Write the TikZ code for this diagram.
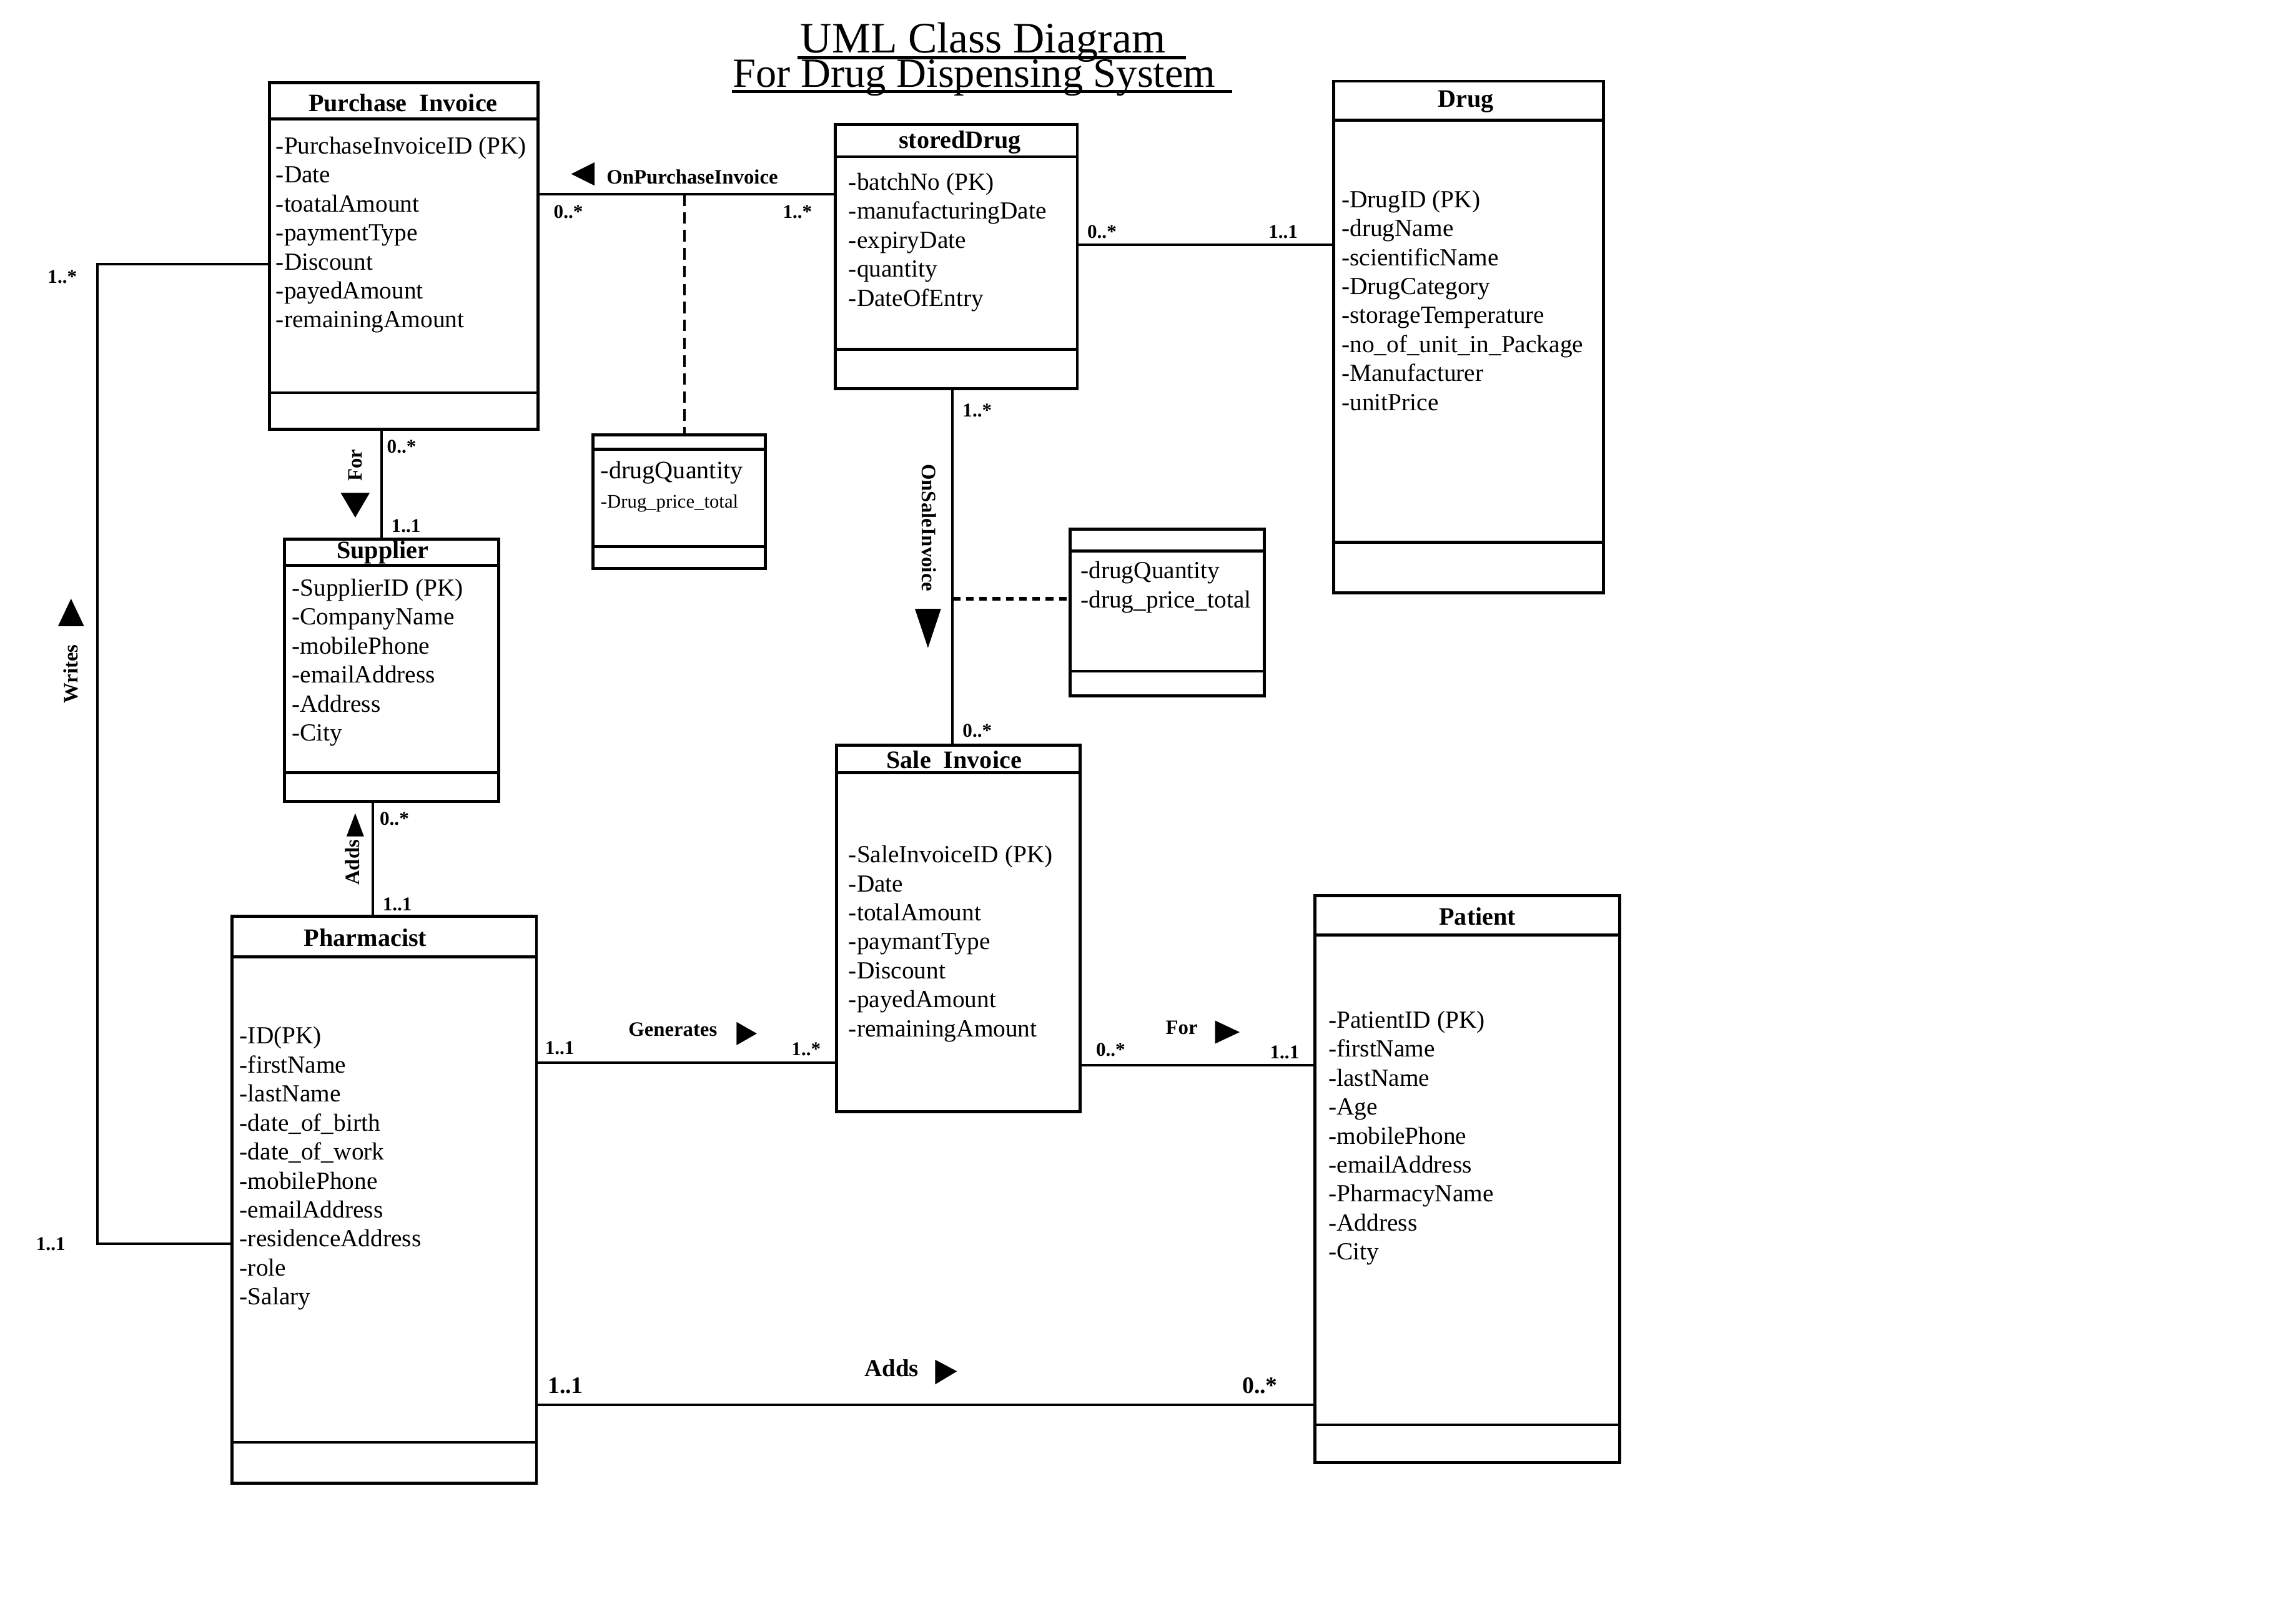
\documentclass[tikz,border=0pt]{standalone}
\usepackage{fontspec}
\setmainfont{Liberation Serif}
\usetikzlibrary{fit}
\begin{document}
\begin{tikzpicture}[x=0.01991cm,y=-0.01991cm,
  cls/.style={draw,line width=1.2pt,inner sep=0pt},
  cmp/.style={line width=1.1pt},
  conn/.style={line width=1pt},
  ttl/.style={font=\fontsize{9.8pt}{11pt}\selectfont\bfseries,inner sep=0pt},
  attr/.style={font=\fontsize{9.6pt}{11.33pt}\selectfont,align=left,anchor=north west,inner sep=0pt},
  mult/.style={font=\fontsize{7.6pt}{9pt}\selectfont\bfseries,inner sep=0pt},
  bigmult/.style={font=\fontsize{9.2pt}{10pt}\selectfont\bfseries,inner sep=0pt},
  rel/.style={font=\fontsize{8pt}{9pt}\selectfont\bfseries,inner sep=0pt},
  dsh/.style={line width=1pt,dash pattern=on 4.5pt off 2.5pt},
  dshb/.style={line width=1.4pt,dash pattern=on 3pt off 2.2pt}]
\useasboundingbox (0,0) rectangle (1567,1120);

% ---------- title ----------
\node[font=\fontsize{17pt}{20pt}\selectfont,anchor=base,inner sep=0pt] (t1) at (678,36.5) {UML Class Diagram};
\node[font=\fontsize{16.2pt}{19pt}\selectfont,anchor=base,inner sep=0pt] (t2) at (672,60) {For Drug Dispensing System};
\draw[line width=1.2pt] (550,40) -- (818,40);
\draw[line width=1.2pt] (505,63) -- (850,63);

% ---------- helper coordinates ----------
\coordinate (h82) at (0,82);   \coordinate (h271) at (0,271);
\coordinate (h108) at (0,108); \coordinate (h241) at (0,241);
\coordinate (h83) at (0,83);   \coordinate (h374) at (0,374);
\coordinate (h310) at (0,310); \coordinate (h377) at (0,377);
\coordinate (h380) at (0,380); \coordinate (h463) at (0,463);
\coordinate (h390) at (0,390); \coordinate (h533) at (0,533);
\coordinate (h533b) at (0,533);
\coordinate (h660) at (0,660); \coordinate (h995) at (0,995);
\coordinate (h645) at (0,645); \coordinate (h983) at (0,983);
\coordinate (h134) at (0,134); \coordinate (h169) at (0,169);
\coordinate (h733) at (0,733); \coordinate (h735) at (0,735);
\coordinate (h969) at (0,969); \coordinate (h858) at (0,858);
\coordinate (h182) at (0,182);
\coordinate (v657) at (657,0); \coordinate (v263) at (263,0);
\coordinate (v257) at (257,0);

% ---------- Purchase Invoice ----------
\node[cls,fit={(186,57) (371,296)}] (pi) {};
\draw[cmp] (pi.west |- h82) -- (pi.east |- h82);
\draw[cmp] (pi.west |- h271) -- (pi.east |- h271);
\node[ttl] (pit) at (278,71) {Purchase\ \ Invoice};
\node[attr] (pia) at (190,94) {-PurchaseInvoiceID (PK)\\-Date\\-toatalAmount\\-paymentType\\-Discount\\-payedAmount\\-remainingAmount};

% ---------- storedDrug ----------
\node[cls,fit={(576,86) (743,268)}] (sd) {};
\draw[cmp] (sd.west |- h108) -- (sd.east |- h108);
\draw[cmp] (sd.west |- h241) -- (sd.east |- h241);
\node[ttl] (sdt) at (662,98) {storedDrug};
\node[attr] (sda) at (585,119) {-batchNo (PK)\\-manufacturingDate\\-expiryDate\\-quantity\\-DateOfEntry};

% ---------- Drug ----------
\node[cls,fit={(920,56) (1106,409)}] (dr) {};
\draw[cmp] (dr.west |- h83) -- (dr.east |- h83);
\draw[cmp] (dr.west |- h374) -- (dr.east |- h374);
\node[ttl] (drt) at (1011,70) {Drug};
\node[attr] (dra) at (925,131) {-DrugID (PK)\\-drugName\\-scientificName\\-DrugCategory\\-storageTemperature\\-no\_of\_unit\_in\_Package\\-Manufacturer\\-unitPrice};

% ---------- association class 1 ----------
\node[cls,fit={(409,300) (528,392)}] (a1) {};
\draw[cmp] (a1.west |- h310) -- (a1.east |- h310);
\draw[cmp] (a1.west |- h377) -- (a1.east |- h377);
\node[attr,font=\fontsize{9.8pt}{11pt}\selectfont] (a1a) at (414,318) {-drugQuantity};
\node[attr,font=\fontsize{7.5pt}{9pt}\selectfont] (a1b) at (414,341) {-Drug\_price\_total};

% ---------- association class 2 ----------
\node[cls,fit={(738,365) (872,480)}] (a2) {};
\draw[cmp] (a2.west |- h380) -- (a2.east |- h380);
\draw[cmp] (a2.west |- h463) -- (a2.east |- h463);
\node[attr] (a2a) at (745,387) {-drugQuantity\\-drug\_price\_total};

% ---------- Supplier ----------
\node[cls,fit={(196,372) (344,553)}] (su) {};
\draw[cmp] (su.west |- h390) -- (su.east |- h390);
\draw[cmp] (su.west |- h533) -- (su.east |- h533);
\node[ttl] (sut) at (264,381) {Supplier};
\node[attr] (sua) at (201,399) {-SupplierID (PK)\\-CompanyName\\-mobilePhone\\-emailAddress\\-Address\\-City};

% ---------- Sale Invoice ----------
\node[cls,fit={(577,514) (745,767)}] (si) {};
\draw[cmp] (si.west |- h533b) -- (si.east |- h533b);
\node[ttl] (sit) at (658,524) {Sale\ \ Invoice};
\node[attr] (sia) at (585,583) {-SaleInvoiceID (PK)\\-Date\\-totalAmount\\-paymantType\\-Discount\\-payedAmount\\-remainingAmount};

% ---------- Pharmacist ----------
\node[cls,fit={(160,632) (370,1023)}] (ph) {};
\draw[cmp] (ph.west |- h660) -- (ph.east |- h660);
\draw[cmp] (ph.west |- h995) -- (ph.east |- h995);
\node[ttl] (pht) at (252,647) {Pharmacist};
\node[attr] (pha) at (165,708) {-ID(PK)\\-firstName\\-lastName\\-date\_of\_birth\\-date\_of\_work\\-mobilePhone\\-emailAddress\\-residenceAddress\\-role\\-Salary};

% ---------- Patient ----------
\node[cls,fit={(907,618) (1117,1009)}] (pa) {};
\draw[cmp] (pa.west |- h645) -- (pa.east |- h645);
\draw[cmp] (pa.west |- h983) -- (pa.east |- h983);
\node[ttl] (pat) at (1019,632) {Patient};
\node[attr] (paa) at (916,697) {-PatientID (PK)\\-firstName\\-lastName\\-Age\\-mobilePhone\\-emailAddress\\-PharmacyName\\-Address\\-City};

% ---------- connectors ----------
% Purchase Invoice -- storedDrug
\draw[conn] (pi.east |- h134) -- (sd.west |- h134);
\node[mult] (m1) at (392,146) {0..*};
\node[mult] (m2) at (550,146) {1..*};
\node[rel,anchor=west] (r1) at (418,122) {OnPurchaseInvoice};
\fill (394,120) -- (410,112) -- (410,128) -- cycle;
\coordinate (j1) at (472,134);
\draw[dsh] (j1) -- (j1 |- a1.north);

% storedDrug -- Drug
\draw[conn] (sd.east |- h169) -- (dr.west |- h169);
\node[mult] (m3) at (760,160) {0..*};
\node[mult] (m4) at (885,160) {1..1};

% storedDrug -- Sale Invoice
\draw[conn] (sd.south -| v657) -- (si.north -| v657);
\node[mult] (m5) at (674,283) {1..*};
\node[mult] (m6) at (674,504) {0..*};
\node[rel,rotate=-90] (r2) at (641,364) {OnSaleInvoice};
\fill (631,420) -- (649,420) -- (640,447) -- cycle;
\coordinate (j2) at (657,413);
\draw[dshb] (j2) -- (j2 -| a2.west);

% Purchase Invoice -- Supplier
\draw[conn] (pi.south -| v263) -- (su.north -| v263);
\node[mult] (m7) at (277,308) {0..*};
\node[mult] (m8) at (280,363) {1..1};
\node[rel,rotate=90] (r3) at (245,321) {For};
\fill (235,340) -- (255,340) -- (245,357) -- cycle;

% Supplier -- Pharmacist
\draw[conn] (su.south -| v257) -- (ph.north -| v257);
\node[mult] (m9) at (272,565) {0..*};
\node[mult] (m10) at (274,624) {1..1};
\node[rel,rotate=90] (r4) at (243,595) {Adds};
\fill (239,577) -- (251,577) -- (245,561) -- cycle;

% Pharmacist -- Purchase Invoice (Writes)
\coordinate (wb) at (67,500);
\draw[conn] (ph.west |- h858) -| (wb) |- (pi.west |- h182);
\node[mult] (m11) at (43,191) {1..*};
\node[mult] (m12) at (35,858) {1..1};
\node[rel,rotate=90] (r5) at (49,465) {Writes};
\fill (40,432) -- (58,432) -- (49,413) -- cycle;

% Pharmacist -- Sale Invoice (Generates)
\draw[conn] (ph.east |- h733) -- (si.west |- h733);
\node[mult] (m13) at (386,723) {1..1};
\node[mult] (m14) at (556,724) {1..*};
\node[rel] (r6) at (464,710) {Generates};
\fill (508,705) -- (508,721) -- (522,713) -- cycle;

% Sale Invoice -- Patient (For)
\draw[conn] (si.east |- h735) -- (pa.west |- h735);
\node[mult] (m15) at (766,724) {0..*};
\node[mult] (m16) at (886,726) {1..1};
\node[rel] (r7) at (815,709) {For};
\fill (838,704) -- (838,720) -- (855,712) -- cycle;

% Pharmacist -- Patient (Adds)
\draw[conn] (ph.east |- h969) -- (pa.west |- h969);
\node[bigmult] (m17) at (390,956) {1..1};
\node[bigmult] (m18) at (869,956) {0..*};
\node[rel,font=\fontsize{9.5pt}{10pt}\selectfont\bfseries] (r8) at (615,944) {Adds};
\fill (645,938) -- (645,955) -- (660,946) -- cycle;
\end{tikzpicture}
\end{document}
